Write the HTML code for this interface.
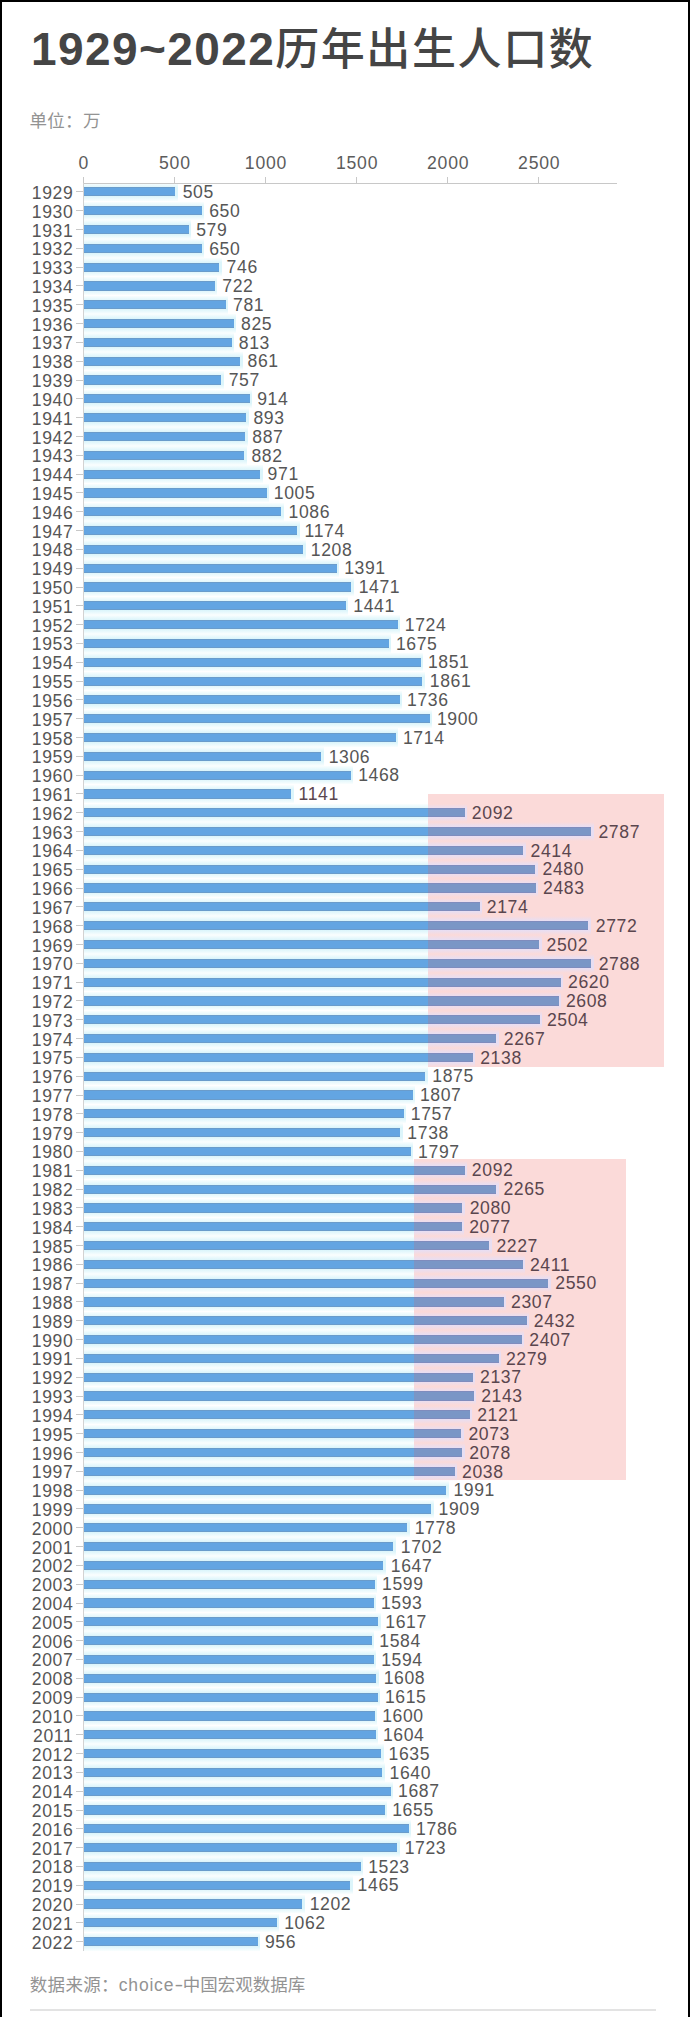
<!DOCTYPE html>
<html lang="zh-CN"><head><meta charset="utf-8"><title>1929~2022历年出生人口数</title>
<style>
html,body{margin:0;padding:0;background:#fff;}
body{width:690px;height:2017px;position:relative;overflow:hidden;font-family:"Liberation Sans", "Noto Sans CJK SC", sans-serif;color:#565656;}
.a{position:absolute;}
.frame{position:absolute;left:0;top:0;width:686px;height:2017px;border-left:2px solid #000;border-right:2px solid #000;border-top:2px solid #000;box-sizing:content-box;}
.title{position:absolute;left:31px;top:20.5px;font-size:46px;line-height:60px;font-weight:bold;color:#454545;white-space:nowrap;}
.td{letter-spacing:1.4px;position:relative;top:-2px;margin-right:1px;}
.tc{letter-spacing:1.6px;font-size:44px;font-weight:500;position:relative;top:-1.5px;margin-left:-1px;}
.unit{position:absolute;left:29.5px;top:106.5px;font-size:17.5px;letter-spacing:0.3px;color:#939393;white-space:nowrap;}
.xl{position:absolute;top:152.5px;font-size:17.6px;line-height:20px;width:60px;text-align:center;color:#5c5c5c;letter-spacing:0.8px;text-indent:0.8px;}
.yl{position:absolute;left:0;width:73.3px;text-align:right;font-size:17.6px;line-height:20px;white-space:nowrap;letter-spacing:0.6px;}
.vl{position:absolute;font-size:17.6px;line-height:20px;white-space:nowrap;letter-spacing:0.6px;}
.bar{position:absolute;height:9.2px;box-shadow:inset 0 1px 0 #6a9ccb,inset 0 -1px 0 #6a9ccb;}
.bar.p{box-shadow:inset 0 1px 0 #7f8cbd,inset 0 -1px 0 #7f8cbd;}
.halo{position:absolute;}
.tk{position:absolute;background:#c8c8c8;}
.foot{position:absolute;left:29.8px;top:1970.5px;font-size:17.5px;letter-spacing:0.3px;color:#939393;white-space:nowrap;}
.hy{display:inline-block;transform:scaleX(1.5);margin:0 1px 0 1.5px;}
.en{letter-spacing:0.8px;}
.cn2{letter-spacing:0;}
</style></head><body>
<div class="frame"></div>
<div class="title"><span class="td">1929~2022</span><span class="tc">历年出生人口数</span></div>
<div class="unit">单位：万</div>

<div class="a" style="left:428px;top:793.5px;width:236px;height:273.9px;background:#fbdad9;"></div>
<div class="a" style="left:414px;top:1159px;width:212px;height:320.6px;background:#fbdad9;"></div>
<div class="halo" style="left:83.9px;top:182.71px;width:94.01px;height:18.4px;background:linear-gradient(to bottom,#fafefe 0,#dcf5fb 4.6px,#dcf5fb calc(100% - 4.6px),#fafefe 100%);"></div>
<div class="halo" style="left:83.9px;top:201.52px;width:120.43px;height:18.4px;background:linear-gradient(to bottom,#fafefe 0,#dcf5fb 4.6px,#dcf5fb calc(100% - 4.6px),#fafefe 100%);"></div>
<div class="halo" style="left:83.9px;top:220.34px;width:107.49px;height:18.4px;background:linear-gradient(to bottom,#fafefe 0,#dcf5fb 4.6px,#dcf5fb calc(100% - 4.6px),#fafefe 100%);"></div>
<div class="halo" style="left:83.9px;top:239.15px;width:120.43px;height:18.4px;background:linear-gradient(to bottom,#fafefe 0,#dcf5fb 4.6px,#dcf5fb calc(100% - 4.6px),#fafefe 100%);"></div>
<div class="halo" style="left:83.9px;top:257.97px;width:137.92px;height:18.4px;background:linear-gradient(to bottom,#fafefe 0,#dcf5fb 4.6px,#dcf5fb calc(100% - 4.6px),#fafefe 100%);"></div>
<div class="halo" style="left:83.9px;top:276.78px;width:133.55px;height:18.4px;background:linear-gradient(to bottom,#fafefe 0,#dcf5fb 4.6px,#dcf5fb calc(100% - 4.6px),#fafefe 100%);"></div>
<div class="halo" style="left:83.9px;top:295.6px;width:144.3px;height:18.4px;background:linear-gradient(to bottom,#fafefe 0,#dcf5fb 4.6px,#dcf5fb calc(100% - 4.6px),#fafefe 100%);"></div>
<div class="halo" style="left:83.9px;top:314.41px;width:152.31px;height:18.4px;background:linear-gradient(to bottom,#fafefe 0,#dcf5fb 4.6px,#dcf5fb calc(100% - 4.6px),#fafefe 100%);"></div>
<div class="halo" style="left:83.9px;top:333.23px;width:150.13px;height:18.4px;background:linear-gradient(to bottom,#fafefe 0,#dcf5fb 4.6px,#dcf5fb calc(100% - 4.6px),#fafefe 100%);"></div>
<div class="halo" style="left:83.9px;top:352.04px;width:158.87px;height:18.4px;background:linear-gradient(to bottom,#fafefe 0,#dcf5fb 4.6px,#dcf5fb calc(100% - 4.6px),#fafefe 100%);"></div>
<div class="halo" style="left:83.9px;top:370.86px;width:139.93px;height:18.4px;background:linear-gradient(to bottom,#fafefe 0,#dcf5fb 4.6px,#dcf5fb calc(100% - 4.6px),#fafefe 100%);"></div>
<div class="halo" style="left:83.9px;top:389.67px;width:168.53px;height:18.4px;background:linear-gradient(to bottom,#fafefe 0,#dcf5fb 4.6px,#dcf5fb calc(100% - 4.6px),#fafefe 100%);"></div>
<div class="halo" style="left:83.9px;top:408.49px;width:164.7px;height:18.4px;background:linear-gradient(to bottom,#fafefe 0,#dcf5fb 4.6px,#dcf5fb calc(100% - 4.6px),#fafefe 100%);"></div>
<div class="halo" style="left:83.9px;top:427.3px;width:163.61px;height:18.4px;background:linear-gradient(to bottom,#fafefe 0,#dcf5fb 4.6px,#dcf5fb calc(100% - 4.6px),#fafefe 100%);"></div>
<div class="halo" style="left:83.9px;top:446.12px;width:162.7px;height:18.4px;background:linear-gradient(to bottom,#fafefe 0,#dcf5fb 4.6px,#dcf5fb calc(100% - 4.6px),#fafefe 100%);"></div>
<div class="halo" style="left:83.9px;top:464.93px;width:178.92px;height:18.4px;background:linear-gradient(to bottom,#fafefe 0,#dcf5fb 4.6px,#dcf5fb calc(100% - 4.6px),#fafefe 100%);"></div>
<div class="halo" style="left:83.9px;top:483.75px;width:185.11px;height:18.4px;background:linear-gradient(to bottom,#fafefe 0,#dcf5fb 4.6px,#dcf5fb calc(100% - 4.6px),#fafefe 100%);"></div>
<div class="halo" style="left:83.9px;top:502.56px;width:199.87px;height:18.4px;background:linear-gradient(to bottom,#fafefe 0,#dcf5fb 4.6px,#dcf5fb calc(100% - 4.6px),#fafefe 100%);"></div>
<div class="halo" style="left:83.9px;top:521.38px;width:215.9px;height:18.4px;background:linear-gradient(to bottom,#fafefe 0,#dcf5fb 4.6px,#dcf5fb calc(100% - 4.6px),#fafefe 100%);"></div>
<div class="halo" style="left:83.9px;top:540.19px;width:222.1px;height:18.4px;background:linear-gradient(to bottom,#fafefe 0,#dcf5fb 4.6px,#dcf5fb calc(100% - 4.6px),#fafefe 100%);"></div>
<div class="halo" style="left:83.9px;top:559.01px;width:255.44px;height:18.4px;background:linear-gradient(to bottom,#fafefe 0,#dcf5fb 4.6px,#dcf5fb calc(100% - 4.6px),#fafefe 100%);"></div>
<div class="halo" style="left:83.9px;top:577.82px;width:270.02px;height:18.4px;background:linear-gradient(to bottom,#fafefe 0,#dcf5fb 4.6px,#dcf5fb calc(100% - 4.6px),#fafefe 100%);"></div>
<div class="halo" style="left:83.9px;top:596.64px;width:264.55px;height:18.4px;background:linear-gradient(to bottom,#fafefe 0,#dcf5fb 4.6px,#dcf5fb calc(100% - 4.6px),#fafefe 100%);"></div>
<div class="halo" style="left:83.9px;top:615.45px;width:316.11px;height:18.4px;background:linear-gradient(to bottom,#fafefe 0,#dcf5fb 4.6px,#dcf5fb calc(100% - 4.6px),#fafefe 100%);"></div>
<div class="halo" style="left:83.9px;top:634.27px;width:307.19px;height:18.4px;background:linear-gradient(to bottom,#fafefe 0,#dcf5fb 4.6px,#dcf5fb calc(100% - 4.6px),#fafefe 100%);"></div>
<div class="halo" style="left:83.9px;top:653.08px;width:339.25px;height:18.4px;background:linear-gradient(to bottom,#fafefe 0,#dcf5fb 4.6px,#dcf5fb calc(100% - 4.6px),#fafefe 100%);"></div>
<div class="halo" style="left:83.9px;top:671.9px;width:341.07px;height:18.4px;background:linear-gradient(to bottom,#fafefe 0,#dcf5fb 4.6px,#dcf5fb calc(100% - 4.6px),#fafefe 100%);"></div>
<div class="halo" style="left:83.9px;top:690.71px;width:318.3px;height:18.4px;background:linear-gradient(to bottom,#fafefe 0,#dcf5fb 4.6px,#dcf5fb calc(100% - 4.6px),#fafefe 100%);"></div>
<div class="halo" style="left:83.9px;top:709.53px;width:348.18px;height:18.4px;background:linear-gradient(to bottom,#fafefe 0,#dcf5fb 4.6px,#dcf5fb calc(100% - 4.6px),#fafefe 100%);"></div>
<div class="halo" style="left:83.9px;top:728.34px;width:314.29px;height:18.4px;background:linear-gradient(to bottom,#fafefe 0,#dcf5fb 4.6px,#dcf5fb calc(100% - 4.6px),#fafefe 100%);"></div>
<div class="halo" style="left:83.9px;top:747.16px;width:239.95px;height:18.4px;background:linear-gradient(to bottom,#fafefe 0,#dcf5fb 4.6px,#dcf5fb calc(100% - 4.6px),#fafefe 100%);"></div>
<div class="halo" style="left:83.9px;top:765.97px;width:269.47px;height:18.4px;background:linear-gradient(to bottom,#fafefe 0,#dcf5fb 4.6px,#dcf5fb calc(100% - 4.6px),#fafefe 100%);"></div>
<div class="halo" style="left:83.9px;top:784.79px;width:209.89px;height:18.4px;background:linear-gradient(to bottom,#fafefe 0,#dcf5fb 4.6px,#dcf5fb calc(100% - 4.6px),#fafefe 100%);"></div>
<div class="halo" style="left:83.9px;top:803.6px;width:344.1px;height:18.4px;background:linear-gradient(to bottom,#fafefe 0,#dcf5fb 4.6px,#dcf5fb calc(100% - 4.6px),#fafefe 100%);"></div>
<div class="halo" style="left:428px;top:803.6px;width:39.06px;height:18.4px;background:linear-gradient(to bottom,rgba(251,218,226,0) 0,#e8def2 4.6px,#e8def2 calc(100% - 4.6px),rgba(251,218,226,0) 100%);"></div>
<div class="halo" style="left:83.9px;top:822.42px;width:344.1px;height:18.4px;background:linear-gradient(to bottom,#fafefe 0,#dcf5fb 4.6px,#dcf5fb calc(100% - 4.6px),#fafefe 100%);"></div>
<div class="halo" style="left:428px;top:822.42px;width:165.69px;height:18.4px;background:linear-gradient(to bottom,rgba(251,218,226,0) 0,#e8def2 4.6px,#e8def2 calc(100% - 4.6px),rgba(251,218,226,0) 100%);"></div>
<div class="halo" style="left:83.9px;top:841.23px;width:344.1px;height:18.4px;background:linear-gradient(to bottom,#fafefe 0,#dcf5fb 4.6px,#dcf5fb calc(100% - 4.6px),#fafefe 100%);"></div>
<div class="halo" style="left:428px;top:841.23px;width:97.73px;height:18.4px;background:linear-gradient(to bottom,rgba(251,218,226,0) 0,#e8def2 4.6px,#e8def2 calc(100% - 4.6px),rgba(251,218,226,0) 100%);"></div>
<div class="halo" style="left:83.9px;top:860.05px;width:344.1px;height:18.4px;background:linear-gradient(to bottom,#fafefe 0,#dcf5fb 4.6px,#dcf5fb calc(100% - 4.6px),#fafefe 100%);"></div>
<div class="halo" style="left:428px;top:860.05px;width:109.76px;height:18.4px;background:linear-gradient(to bottom,rgba(251,218,226,0) 0,#e8def2 4.6px,#e8def2 calc(100% - 4.6px),rgba(251,218,226,0) 100%);"></div>
<div class="halo" style="left:83.9px;top:878.86px;width:344.1px;height:18.4px;background:linear-gradient(to bottom,#fafefe 0,#dcf5fb 4.6px,#dcf5fb calc(100% - 4.6px),#fafefe 100%);"></div>
<div class="halo" style="left:428px;top:878.86px;width:110.3px;height:18.4px;background:linear-gradient(to bottom,rgba(251,218,226,0) 0,#e8def2 4.6px,#e8def2 calc(100% - 4.6px),rgba(251,218,226,0) 100%);"></div>
<div class="halo" style="left:83.9px;top:897.68px;width:344.1px;height:18.4px;background:linear-gradient(to bottom,#fafefe 0,#dcf5fb 4.6px,#dcf5fb calc(100% - 4.6px),#fafefe 100%);"></div>
<div class="halo" style="left:428px;top:897.68px;width:54px;height:18.4px;background:linear-gradient(to bottom,rgba(251,218,226,0) 0,#e8def2 4.6px,#e8def2 calc(100% - 4.6px),rgba(251,218,226,0) 100%);"></div>
<div class="halo" style="left:83.9px;top:916.49px;width:344.1px;height:18.4px;background:linear-gradient(to bottom,#fafefe 0,#dcf5fb 4.6px,#dcf5fb calc(100% - 4.6px),#fafefe 100%);"></div>
<div class="halo" style="left:428px;top:916.49px;width:162.96px;height:18.4px;background:linear-gradient(to bottom,rgba(251,218,226,0) 0,#e8def2 4.6px,#e8def2 calc(100% - 4.6px),rgba(251,218,226,0) 100%);"></div>
<div class="halo" style="left:83.9px;top:935.31px;width:344.1px;height:18.4px;background:linear-gradient(to bottom,#fafefe 0,#dcf5fb 4.6px,#dcf5fb calc(100% - 4.6px),#fafefe 100%);"></div>
<div class="halo" style="left:428px;top:935.31px;width:113.76px;height:18.4px;background:linear-gradient(to bottom,rgba(251,218,226,0) 0,#e8def2 4.6px,#e8def2 calc(100% - 4.6px),rgba(251,218,226,0) 100%);"></div>
<div class="halo" style="left:83.9px;top:954.12px;width:344.1px;height:18.4px;background:linear-gradient(to bottom,#fafefe 0,#dcf5fb 4.6px,#dcf5fb calc(100% - 4.6px),#fafefe 100%);"></div>
<div class="halo" style="left:428px;top:954.12px;width:165.87px;height:18.4px;background:linear-gradient(to bottom,rgba(251,218,226,0) 0,#e8def2 4.6px,#e8def2 calc(100% - 4.6px),rgba(251,218,226,0) 100%);"></div>
<div class="halo" style="left:83.9px;top:972.94px;width:344.1px;height:18.4px;background:linear-gradient(to bottom,#fafefe 0,#dcf5fb 4.6px,#dcf5fb calc(100% - 4.6px),#fafefe 100%);"></div>
<div class="halo" style="left:428px;top:972.94px;width:135.26px;height:18.4px;background:linear-gradient(to bottom,rgba(251,218,226,0) 0,#e8def2 4.6px,#e8def2 calc(100% - 4.6px),rgba(251,218,226,0) 100%);"></div>
<div class="halo" style="left:83.9px;top:991.75px;width:344.1px;height:18.4px;background:linear-gradient(to bottom,#fafefe 0,#dcf5fb 4.6px,#dcf5fb calc(100% - 4.6px),#fafefe 100%);"></div>
<div class="halo" style="left:428px;top:991.75px;width:133.08px;height:18.4px;background:linear-gradient(to bottom,rgba(251,218,226,0) 0,#e8def2 4.6px,#e8def2 calc(100% - 4.6px),rgba(251,218,226,0) 100%);"></div>
<div class="halo" style="left:83.9px;top:1010.57px;width:344.1px;height:18.4px;background:linear-gradient(to bottom,#fafefe 0,#dcf5fb 4.6px,#dcf5fb calc(100% - 4.6px),#fafefe 100%);"></div>
<div class="halo" style="left:428px;top:1010.57px;width:114.13px;height:18.4px;background:linear-gradient(to bottom,rgba(251,218,226,0) 0,#e8def2 4.6px,#e8def2 calc(100% - 4.6px),rgba(251,218,226,0) 100%);"></div>
<div class="halo" style="left:83.9px;top:1029.38px;width:344.1px;height:18.4px;background:linear-gradient(to bottom,#fafefe 0,#dcf5fb 4.6px,#dcf5fb calc(100% - 4.6px),#fafefe 100%);"></div>
<div class="halo" style="left:428px;top:1029.38px;width:70.95px;height:18.4px;background:linear-gradient(to bottom,rgba(251,218,226,0) 0,#e8def2 4.6px,#e8def2 calc(100% - 4.6px),rgba(251,218,226,0) 100%);"></div>
<div class="halo" style="left:83.9px;top:1048.2px;width:344.1px;height:18.4px;background:linear-gradient(to bottom,#fafefe 0,#dcf5fb 4.6px,#dcf5fb calc(100% - 4.6px),#fafefe 100%);"></div>
<div class="halo" style="left:428px;top:1048.2px;width:47.44px;height:18.4px;background:linear-gradient(to bottom,rgba(251,218,226,0) 0,#e8def2 4.6px,#e8def2 calc(100% - 4.6px),rgba(251,218,226,0) 100%);"></div>
<div class="halo" style="left:83.9px;top:1067.01px;width:343.62px;height:18.4px;background:linear-gradient(to bottom,#fafefe 0,#dcf5fb 4.6px,#dcf5fb calc(100% - 4.6px),#fafefe 100%);"></div>
<div class="halo" style="left:83.9px;top:1085.83px;width:331.24px;height:18.4px;background:linear-gradient(to bottom,#fafefe 0,#dcf5fb 4.6px,#dcf5fb calc(100% - 4.6px),#fafefe 100%);"></div>
<div class="halo" style="left:83.9px;top:1104.64px;width:322.13px;height:18.4px;background:linear-gradient(to bottom,#fafefe 0,#dcf5fb 4.6px,#dcf5fb calc(100% - 4.6px),#fafefe 100%);"></div>
<div class="halo" style="left:83.9px;top:1123.46px;width:318.66px;height:18.4px;background:linear-gradient(to bottom,#fafefe 0,#dcf5fb 4.6px,#dcf5fb calc(100% - 4.6px),#fafefe 100%);"></div>
<div class="halo" style="left:83.9px;top:1142.27px;width:329.41px;height:18.4px;background:linear-gradient(to bottom,#fafefe 0,#dcf5fb 4.6px,#dcf5fb calc(100% - 4.6px),#fafefe 100%);"></div>
<div class="halo" style="left:83.9px;top:1161.09px;width:330.1px;height:18.4px;background:linear-gradient(to bottom,#fafefe 0,#dcf5fb 4.6px,#dcf5fb calc(100% - 4.6px),#fafefe 100%);"></div>
<div class="halo" style="left:414px;top:1161.09px;width:53.06px;height:18.4px;background:linear-gradient(to bottom,rgba(251,218,226,0) 0,#e8def2 4.6px,#e8def2 calc(100% - 4.6px),rgba(251,218,226,0) 100%);"></div>
<div class="halo" style="left:83.9px;top:1179.9px;width:330.1px;height:18.4px;background:linear-gradient(to bottom,#fafefe 0,#dcf5fb 4.6px,#dcf5fb calc(100% - 4.6px),#fafefe 100%);"></div>
<div class="halo" style="left:414px;top:1179.9px;width:84.58px;height:18.4px;background:linear-gradient(to bottom,rgba(251,218,226,0) 0,#e8def2 4.6px,#e8def2 calc(100% - 4.6px),rgba(251,218,226,0) 100%);"></div>
<div class="halo" style="left:83.9px;top:1198.72px;width:330.1px;height:18.4px;background:linear-gradient(to bottom,#fafefe 0,#dcf5fb 4.6px,#dcf5fb calc(100% - 4.6px),#fafefe 100%);"></div>
<div class="halo" style="left:414px;top:1198.72px;width:50.88px;height:18.4px;background:linear-gradient(to bottom,rgba(251,218,226,0) 0,#e8def2 4.6px,#e8def2 calc(100% - 4.6px),rgba(251,218,226,0) 100%);"></div>
<div class="halo" style="left:83.9px;top:1217.53px;width:330.1px;height:18.4px;background:linear-gradient(to bottom,#fafefe 0,#dcf5fb 4.6px,#dcf5fb calc(100% - 4.6px),#fafefe 100%);"></div>
<div class="halo" style="left:414px;top:1217.53px;width:50.33px;height:18.4px;background:linear-gradient(to bottom,rgba(251,218,226,0) 0,#e8def2 4.6px,#e8def2 calc(100% - 4.6px),rgba(251,218,226,0) 100%);"></div>
<div class="halo" style="left:83.9px;top:1236.35px;width:330.1px;height:18.4px;background:linear-gradient(to bottom,#fafefe 0,#dcf5fb 4.6px,#dcf5fb calc(100% - 4.6px),#fafefe 100%);"></div>
<div class="halo" style="left:414px;top:1236.35px;width:77.66px;height:18.4px;background:linear-gradient(to bottom,rgba(251,218,226,0) 0,#e8def2 4.6px,#e8def2 calc(100% - 4.6px),rgba(251,218,226,0) 100%);"></div>
<div class="halo" style="left:83.9px;top:1255.16px;width:330.1px;height:18.4px;background:linear-gradient(to bottom,#fafefe 0,#dcf5fb 4.6px,#dcf5fb calc(100% - 4.6px),#fafefe 100%);"></div>
<div class="halo" style="left:414px;top:1255.16px;width:111.18px;height:18.4px;background:linear-gradient(to bottom,rgba(251,218,226,0) 0,#e8def2 4.6px,#e8def2 calc(100% - 4.6px),rgba(251,218,226,0) 100%);"></div>
<div class="halo" style="left:83.9px;top:1273.98px;width:330.1px;height:18.4px;background:linear-gradient(to bottom,#fafefe 0,#dcf5fb 4.6px,#dcf5fb calc(100% - 4.6px),#fafefe 100%);"></div>
<div class="halo" style="left:414px;top:1273.98px;width:136.51px;height:18.4px;background:linear-gradient(to bottom,rgba(251,218,226,0) 0,#e8def2 4.6px,#e8def2 calc(100% - 4.6px),rgba(251,218,226,0) 100%);"></div>
<div class="halo" style="left:83.9px;top:1292.79px;width:330.1px;height:18.4px;background:linear-gradient(to bottom,#fafefe 0,#dcf5fb 4.6px,#dcf5fb calc(100% - 4.6px),#fafefe 100%);"></div>
<div class="halo" style="left:414px;top:1292.79px;width:92.24px;height:18.4px;background:linear-gradient(to bottom,rgba(251,218,226,0) 0,#e8def2 4.6px,#e8def2 calc(100% - 4.6px),rgba(251,218,226,0) 100%);"></div>
<div class="halo" style="left:83.9px;top:1311.61px;width:330.1px;height:18.4px;background:linear-gradient(to bottom,#fafefe 0,#dcf5fb 4.6px,#dcf5fb calc(100% - 4.6px),#fafefe 100%);"></div>
<div class="halo" style="left:414px;top:1311.61px;width:115.01px;height:18.4px;background:linear-gradient(to bottom,rgba(251,218,226,0) 0,#e8def2 4.6px,#e8def2 calc(100% - 4.6px),rgba(251,218,226,0) 100%);"></div>
<div class="halo" style="left:83.9px;top:1330.42px;width:330.1px;height:18.4px;background:linear-gradient(to bottom,#fafefe 0,#dcf5fb 4.6px,#dcf5fb calc(100% - 4.6px),#fafefe 100%);"></div>
<div class="halo" style="left:414px;top:1330.42px;width:110.46px;height:18.4px;background:linear-gradient(to bottom,rgba(251,218,226,0) 0,#e8def2 4.6px,#e8def2 calc(100% - 4.6px),rgba(251,218,226,0) 100%);"></div>
<div class="halo" style="left:83.9px;top:1349.24px;width:330.1px;height:18.4px;background:linear-gradient(to bottom,#fafefe 0,#dcf5fb 4.6px,#dcf5fb calc(100% - 4.6px),#fafefe 100%);"></div>
<div class="halo" style="left:414px;top:1349.24px;width:87.13px;height:18.4px;background:linear-gradient(to bottom,rgba(251,218,226,0) 0,#e8def2 4.6px,#e8def2 calc(100% - 4.6px),rgba(251,218,226,0) 100%);"></div>
<div class="halo" style="left:83.9px;top:1368.05px;width:330.1px;height:18.4px;background:linear-gradient(to bottom,#fafefe 0,#dcf5fb 4.6px,#dcf5fb calc(100% - 4.6px),#fafefe 100%);"></div>
<div class="halo" style="left:414px;top:1368.05px;width:61.26px;height:18.4px;background:linear-gradient(to bottom,rgba(251,218,226,0) 0,#e8def2 4.6px,#e8def2 calc(100% - 4.6px),rgba(251,218,226,0) 100%);"></div>
<div class="halo" style="left:83.9px;top:1386.87px;width:330.1px;height:18.4px;background:linear-gradient(to bottom,#fafefe 0,#dcf5fb 4.6px,#dcf5fb calc(100% - 4.6px),#fafefe 100%);"></div>
<div class="halo" style="left:414px;top:1386.87px;width:62.35px;height:18.4px;background:linear-gradient(to bottom,rgba(251,218,226,0) 0,#e8def2 4.6px,#e8def2 calc(100% - 4.6px),rgba(251,218,226,0) 100%);"></div>
<div class="halo" style="left:83.9px;top:1405.68px;width:330.1px;height:18.4px;background:linear-gradient(to bottom,#fafefe 0,#dcf5fb 4.6px,#dcf5fb calc(100% - 4.6px),#fafefe 100%);"></div>
<div class="halo" style="left:414px;top:1405.68px;width:58.35px;height:18.4px;background:linear-gradient(to bottom,rgba(251,218,226,0) 0,#e8def2 4.6px,#e8def2 calc(100% - 4.6px),rgba(251,218,226,0) 100%);"></div>
<div class="halo" style="left:83.9px;top:1424.5px;width:330.1px;height:18.4px;background:linear-gradient(to bottom,#fafefe 0,#dcf5fb 4.6px,#dcf5fb calc(100% - 4.6px),#fafefe 100%);"></div>
<div class="halo" style="left:414px;top:1424.5px;width:49.6px;height:18.4px;background:linear-gradient(to bottom,rgba(251,218,226,0) 0,#e8def2 4.6px,#e8def2 calc(100% - 4.6px),rgba(251,218,226,0) 100%);"></div>
<div class="halo" style="left:83.9px;top:1443.31px;width:330.1px;height:18.4px;background:linear-gradient(to bottom,#fafefe 0,#dcf5fb 4.6px,#dcf5fb calc(100% - 4.6px),#fafefe 100%);"></div>
<div class="halo" style="left:414px;top:1443.31px;width:50.51px;height:18.4px;background:linear-gradient(to bottom,rgba(251,218,226,0) 0,#e8def2 4.6px,#e8def2 calc(100% - 4.6px),rgba(251,218,226,0) 100%);"></div>
<div class="halo" style="left:83.9px;top:1462.13px;width:330.1px;height:18.4px;background:linear-gradient(to bottom,#fafefe 0,#dcf5fb 4.6px,#dcf5fb calc(100% - 4.6px),#fafefe 100%);"></div>
<div class="halo" style="left:414px;top:1462.13px;width:43.22px;height:18.4px;background:linear-gradient(to bottom,rgba(251,218,226,0) 0,#e8def2 4.6px,#e8def2 calc(100% - 4.6px),rgba(251,218,226,0) 100%);"></div>
<div class="halo" style="left:83.9px;top:1480.94px;width:364.76px;height:18.4px;background:linear-gradient(to bottom,#fafefe 0,#dcf5fb 4.6px,#dcf5fb calc(100% - 4.6px),#fafefe 100%);"></div>
<div class="halo" style="left:83.9px;top:1499.76px;width:349.82px;height:18.4px;background:linear-gradient(to bottom,#fafefe 0,#dcf5fb 4.6px,#dcf5fb calc(100% - 4.6px),#fafefe 100%);"></div>
<div class="halo" style="left:83.9px;top:1518.57px;width:325.95px;height:18.4px;background:linear-gradient(to bottom,#fafefe 0,#dcf5fb 4.6px,#dcf5fb calc(100% - 4.6px),#fafefe 100%);"></div>
<div class="halo" style="left:83.9px;top:1537.39px;width:312.1px;height:18.4px;background:linear-gradient(to bottom,#fafefe 0,#dcf5fb 4.6px,#dcf5fb calc(100% - 4.6px),#fafefe 100%);"></div>
<div class="halo" style="left:83.9px;top:1556.2px;width:302.08px;height:18.4px;background:linear-gradient(to bottom,#fafefe 0,#dcf5fb 4.6px,#dcf5fb calc(100% - 4.6px),#fafefe 100%);"></div>
<div class="halo" style="left:83.9px;top:1575.02px;width:293.34px;height:18.4px;background:linear-gradient(to bottom,#fafefe 0,#dcf5fb 4.6px,#dcf5fb calc(100% - 4.6px),#fafefe 100%);"></div>
<div class="halo" style="left:83.9px;top:1593.83px;width:292.24px;height:18.4px;background:linear-gradient(to bottom,#fafefe 0,#dcf5fb 4.6px,#dcf5fb calc(100% - 4.6px),#fafefe 100%);"></div>
<div class="halo" style="left:83.9px;top:1612.65px;width:296.62px;height:18.4px;background:linear-gradient(to bottom,#fafefe 0,#dcf5fb 4.6px,#dcf5fb calc(100% - 4.6px),#fafefe 100%);"></div>
<div class="halo" style="left:83.9px;top:1631.46px;width:290.6px;height:18.4px;background:linear-gradient(to bottom,#fafefe 0,#dcf5fb 4.6px,#dcf5fb calc(100% - 4.6px),#fafefe 100%);"></div>
<div class="halo" style="left:83.9px;top:1650.28px;width:292.43px;height:18.4px;background:linear-gradient(to bottom,#fafefe 0,#dcf5fb 4.6px,#dcf5fb calc(100% - 4.6px),#fafefe 100%);"></div>
<div class="halo" style="left:83.9px;top:1669.09px;width:294.98px;height:18.4px;background:linear-gradient(to bottom,#fafefe 0,#dcf5fb 4.6px,#dcf5fb calc(100% - 4.6px),#fafefe 100%);"></div>
<div class="halo" style="left:83.9px;top:1687.91px;width:296.25px;height:18.4px;background:linear-gradient(to bottom,#fafefe 0,#dcf5fb 4.6px,#dcf5fb calc(100% - 4.6px),#fafefe 100%);"></div>
<div class="halo" style="left:83.9px;top:1706.72px;width:293.52px;height:18.4px;background:linear-gradient(to bottom,#fafefe 0,#dcf5fb 4.6px,#dcf5fb calc(100% - 4.6px),#fafefe 100%);"></div>
<div class="halo" style="left:83.9px;top:1725.54px;width:294.25px;height:18.4px;background:linear-gradient(to bottom,#fafefe 0,#dcf5fb 4.6px,#dcf5fb calc(100% - 4.6px),#fafefe 100%);"></div>
<div class="halo" style="left:83.9px;top:1744.35px;width:299.9px;height:18.4px;background:linear-gradient(to bottom,#fafefe 0,#dcf5fb 4.6px,#dcf5fb calc(100% - 4.6px),#fafefe 100%);"></div>
<div class="halo" style="left:83.9px;top:1763.17px;width:300.81px;height:18.4px;background:linear-gradient(to bottom,#fafefe 0,#dcf5fb 4.6px,#dcf5fb calc(100% - 4.6px),#fafefe 100%);"></div>
<div class="halo" style="left:83.9px;top:1781.98px;width:309.37px;height:18.4px;background:linear-gradient(to bottom,#fafefe 0,#dcf5fb 4.6px,#dcf5fb calc(100% - 4.6px),#fafefe 100%);"></div>
<div class="halo" style="left:83.9px;top:1800.8px;width:303.54px;height:18.4px;background:linear-gradient(to bottom,#fafefe 0,#dcf5fb 4.6px,#dcf5fb calc(100% - 4.6px),#fafefe 100%);"></div>
<div class="halo" style="left:83.9px;top:1819.61px;width:327.41px;height:18.4px;background:linear-gradient(to bottom,#fafefe 0,#dcf5fb 4.6px,#dcf5fb calc(100% - 4.6px),#fafefe 100%);"></div>
<div class="halo" style="left:83.9px;top:1838.43px;width:315.93px;height:18.4px;background:linear-gradient(to bottom,#fafefe 0,#dcf5fb 4.6px,#dcf5fb calc(100% - 4.6px),#fafefe 100%);"></div>
<div class="halo" style="left:83.9px;top:1857.24px;width:279.49px;height:18.4px;background:linear-gradient(to bottom,#fafefe 0,#dcf5fb 4.6px,#dcf5fb calc(100% - 4.6px),#fafefe 100%);"></div>
<div class="halo" style="left:83.9px;top:1876.06px;width:268.92px;height:18.4px;background:linear-gradient(to bottom,#fafefe 0,#dcf5fb 4.6px,#dcf5fb calc(100% - 4.6px),#fafefe 100%);"></div>
<div class="halo" style="left:83.9px;top:1894.87px;width:221px;height:18.4px;background:linear-gradient(to bottom,#fafefe 0,#dcf5fb 4.6px,#dcf5fb calc(100% - 4.6px),#fafefe 100%);"></div>
<div class="halo" style="left:83.9px;top:1913.69px;width:195.5px;height:18.4px;background:linear-gradient(to bottom,#fafefe 0,#dcf5fb 4.6px,#dcf5fb calc(100% - 4.6px),#fafefe 100%);"></div>
<div class="halo" style="left:83.9px;top:1932.5px;width:176.18px;height:18.4px;background:linear-gradient(to bottom,#fafefe 0,#dcf5fb 4.6px,#dcf5fb calc(100% - 4.6px),#fafefe 100%);"></div>
<div class="bar" style="left:83.9px;top:187.31px;width:91.51px;background:#63a5e2;"></div>
<div class="bar" style="left:83.9px;top:206.12px;width:117.93px;background:#63a5e2;"></div>
<div class="bar" style="left:83.9px;top:224.94px;width:104.99px;background:#63a5e2;"></div>
<div class="bar" style="left:83.9px;top:243.75px;width:117.93px;background:#63a5e2;"></div>
<div class="bar" style="left:83.9px;top:262.57px;width:135.42px;background:#63a5e2;"></div>
<div class="bar" style="left:83.9px;top:281.38px;width:131.05px;background:#63a5e2;"></div>
<div class="bar" style="left:83.9px;top:300.2px;width:141.8px;background:#63a5e2;"></div>
<div class="bar" style="left:83.9px;top:319.01px;width:149.81px;background:#63a5e2;"></div>
<div class="bar" style="left:83.9px;top:337.83px;width:147.63px;background:#63a5e2;"></div>
<div class="bar" style="left:83.9px;top:356.64px;width:156.37px;background:#63a5e2;"></div>
<div class="bar" style="left:83.9px;top:375.46px;width:137.43px;background:#63a5e2;"></div>
<div class="bar" style="left:83.9px;top:394.27px;width:166.03px;background:#63a5e2;"></div>
<div class="bar" style="left:83.9px;top:413.09px;width:162.2px;background:#63a5e2;"></div>
<div class="bar" style="left:83.9px;top:431.9px;width:161.11px;background:#63a5e2;"></div>
<div class="bar" style="left:83.9px;top:450.72px;width:160.2px;background:#63a5e2;"></div>
<div class="bar" style="left:83.9px;top:469.53px;width:176.42px;background:#63a5e2;"></div>
<div class="bar" style="left:83.9px;top:488.35px;width:182.61px;background:#63a5e2;"></div>
<div class="bar" style="left:83.9px;top:507.16px;width:197.37px;background:#63a5e2;"></div>
<div class="bar" style="left:83.9px;top:525.98px;width:213.4px;background:#63a5e2;"></div>
<div class="bar" style="left:83.9px;top:544.79px;width:219.6px;background:#63a5e2;"></div>
<div class="bar" style="left:83.9px;top:563.61px;width:252.94px;background:#63a5e2;"></div>
<div class="bar" style="left:83.9px;top:582.42px;width:267.52px;background:#63a5e2;"></div>
<div class="bar" style="left:83.9px;top:601.24px;width:262.05px;background:#63a5e2;"></div>
<div class="bar" style="left:83.9px;top:620.05px;width:313.61px;background:#63a5e2;"></div>
<div class="bar" style="left:83.9px;top:638.87px;width:304.69px;background:#63a5e2;"></div>
<div class="bar" style="left:83.9px;top:657.68px;width:336.75px;background:#63a5e2;"></div>
<div class="bar" style="left:83.9px;top:676.5px;width:338.57px;background:#63a5e2;"></div>
<div class="bar" style="left:83.9px;top:695.31px;width:315.8px;background:#63a5e2;"></div>
<div class="bar" style="left:83.9px;top:714.13px;width:345.68px;background:#63a5e2;"></div>
<div class="bar" style="left:83.9px;top:732.94px;width:311.79px;background:#63a5e2;"></div>
<div class="bar" style="left:83.9px;top:751.76px;width:237.45px;background:#63a5e2;"></div>
<div class="bar" style="left:83.9px;top:770.57px;width:266.97px;background:#63a5e2;"></div>
<div class="bar" style="left:83.9px;top:789.39px;width:207.39px;background:#63a5e2;"></div>
<div class="bar" style="left:83.9px;top:808.2px;width:344.1px;background:#63a5e2;"></div>
<div class="bar p" style="left:428px;top:808.2px;width:36.56px;background:#7a96c6;"></div>
<div class="bar" style="left:83.9px;top:827.02px;width:344.1px;background:#63a5e2;"></div>
<div class="bar p" style="left:428px;top:827.02px;width:163.19px;background:#7a96c6;"></div>
<div class="bar" style="left:83.9px;top:845.83px;width:344.1px;background:#63a5e2;"></div>
<div class="bar p" style="left:428px;top:845.83px;width:95.23px;background:#7a96c6;"></div>
<div class="bar" style="left:83.9px;top:864.65px;width:344.1px;background:#63a5e2;"></div>
<div class="bar p" style="left:428px;top:864.65px;width:107.26px;background:#7a96c6;"></div>
<div class="bar" style="left:83.9px;top:883.46px;width:344.1px;background:#63a5e2;"></div>
<div class="bar p" style="left:428px;top:883.46px;width:107.8px;background:#7a96c6;"></div>
<div class="bar" style="left:83.9px;top:902.28px;width:344.1px;background:#63a5e2;"></div>
<div class="bar p" style="left:428px;top:902.28px;width:51.5px;background:#7a96c6;"></div>
<div class="bar" style="left:83.9px;top:921.09px;width:344.1px;background:#63a5e2;"></div>
<div class="bar p" style="left:428px;top:921.09px;width:160.46px;background:#7a96c6;"></div>
<div class="bar" style="left:83.9px;top:939.91px;width:344.1px;background:#63a5e2;"></div>
<div class="bar p" style="left:428px;top:939.91px;width:111.26px;background:#7a96c6;"></div>
<div class="bar" style="left:83.9px;top:958.72px;width:344.1px;background:#63a5e2;"></div>
<div class="bar p" style="left:428px;top:958.72px;width:163.37px;background:#7a96c6;"></div>
<div class="bar" style="left:83.9px;top:977.54px;width:344.1px;background:#63a5e2;"></div>
<div class="bar p" style="left:428px;top:977.54px;width:132.76px;background:#7a96c6;"></div>
<div class="bar" style="left:83.9px;top:996.35px;width:344.1px;background:#63a5e2;"></div>
<div class="bar p" style="left:428px;top:996.35px;width:130.58px;background:#7a96c6;"></div>
<div class="bar" style="left:83.9px;top:1015.17px;width:344.1px;background:#63a5e2;"></div>
<div class="bar p" style="left:428px;top:1015.17px;width:111.63px;background:#7a96c6;"></div>
<div class="bar" style="left:83.9px;top:1033.98px;width:344.1px;background:#63a5e2;"></div>
<div class="bar p" style="left:428px;top:1033.98px;width:68.45px;background:#7a96c6;"></div>
<div class="bar" style="left:83.9px;top:1052.8px;width:344.1px;background:#63a5e2;"></div>
<div class="bar p" style="left:428px;top:1052.8px;width:44.94px;background:#7a96c6;"></div>
<div class="bar" style="left:83.9px;top:1071.61px;width:341.12px;background:#63a5e2;"></div>
<div class="bar" style="left:83.9px;top:1090.43px;width:328.74px;background:#63a5e2;"></div>
<div class="bar" style="left:83.9px;top:1109.24px;width:319.63px;background:#63a5e2;"></div>
<div class="bar" style="left:83.9px;top:1128.06px;width:316.16px;background:#63a5e2;"></div>
<div class="bar" style="left:83.9px;top:1146.87px;width:326.91px;background:#63a5e2;"></div>
<div class="bar" style="left:83.9px;top:1165.69px;width:330.1px;background:#63a5e2;"></div>
<div class="bar p" style="left:414px;top:1165.69px;width:50.56px;background:#7a96c6;"></div>
<div class="bar" style="left:83.9px;top:1184.5px;width:330.1px;background:#63a5e2;"></div>
<div class="bar p" style="left:414px;top:1184.5px;width:82.08px;background:#7a96c6;"></div>
<div class="bar" style="left:83.9px;top:1203.32px;width:330.1px;background:#63a5e2;"></div>
<div class="bar p" style="left:414px;top:1203.32px;width:48.38px;background:#7a96c6;"></div>
<div class="bar" style="left:83.9px;top:1222.13px;width:330.1px;background:#63a5e2;"></div>
<div class="bar p" style="left:414px;top:1222.13px;width:47.83px;background:#7a96c6;"></div>
<div class="bar" style="left:83.9px;top:1240.95px;width:330.1px;background:#63a5e2;"></div>
<div class="bar p" style="left:414px;top:1240.95px;width:75.16px;background:#7a96c6;"></div>
<div class="bar" style="left:83.9px;top:1259.76px;width:330.1px;background:#63a5e2;"></div>
<div class="bar p" style="left:414px;top:1259.76px;width:108.68px;background:#7a96c6;"></div>
<div class="bar" style="left:83.9px;top:1278.58px;width:330.1px;background:#63a5e2;"></div>
<div class="bar p" style="left:414px;top:1278.58px;width:134.01px;background:#7a96c6;"></div>
<div class="bar" style="left:83.9px;top:1297.39px;width:330.1px;background:#63a5e2;"></div>
<div class="bar p" style="left:414px;top:1297.39px;width:89.74px;background:#7a96c6;"></div>
<div class="bar" style="left:83.9px;top:1316.21px;width:330.1px;background:#63a5e2;"></div>
<div class="bar p" style="left:414px;top:1316.21px;width:112.51px;background:#7a96c6;"></div>
<div class="bar" style="left:83.9px;top:1335.02px;width:330.1px;background:#63a5e2;"></div>
<div class="bar p" style="left:414px;top:1335.02px;width:107.96px;background:#7a96c6;"></div>
<div class="bar" style="left:83.9px;top:1353.84px;width:330.1px;background:#63a5e2;"></div>
<div class="bar p" style="left:414px;top:1353.84px;width:84.63px;background:#7a96c6;"></div>
<div class="bar" style="left:83.9px;top:1372.65px;width:330.1px;background:#63a5e2;"></div>
<div class="bar p" style="left:414px;top:1372.65px;width:58.76px;background:#7a96c6;"></div>
<div class="bar" style="left:83.9px;top:1391.47px;width:330.1px;background:#63a5e2;"></div>
<div class="bar p" style="left:414px;top:1391.47px;width:59.85px;background:#7a96c6;"></div>
<div class="bar" style="left:83.9px;top:1410.28px;width:330.1px;background:#63a5e2;"></div>
<div class="bar p" style="left:414px;top:1410.28px;width:55.85px;background:#7a96c6;"></div>
<div class="bar" style="left:83.9px;top:1429.1px;width:330.1px;background:#63a5e2;"></div>
<div class="bar p" style="left:414px;top:1429.1px;width:47.1px;background:#7a96c6;"></div>
<div class="bar" style="left:83.9px;top:1447.91px;width:330.1px;background:#63a5e2;"></div>
<div class="bar p" style="left:414px;top:1447.91px;width:48.01px;background:#7a96c6;"></div>
<div class="bar" style="left:83.9px;top:1466.73px;width:330.1px;background:#63a5e2;"></div>
<div class="bar p" style="left:414px;top:1466.73px;width:40.72px;background:#7a96c6;"></div>
<div class="bar" style="left:83.9px;top:1485.54px;width:362.26px;background:#63a5e2;"></div>
<div class="bar" style="left:83.9px;top:1504.36px;width:347.32px;background:#63a5e2;"></div>
<div class="bar" style="left:83.9px;top:1523.17px;width:323.45px;background:#63a5e2;"></div>
<div class="bar" style="left:83.9px;top:1541.99px;width:309.6px;background:#63a5e2;"></div>
<div class="bar" style="left:83.9px;top:1560.8px;width:299.58px;background:#63a5e2;"></div>
<div class="bar" style="left:83.9px;top:1579.62px;width:290.84px;background:#63a5e2;"></div>
<div class="bar" style="left:83.9px;top:1598.43px;width:289.74px;background:#63a5e2;"></div>
<div class="bar" style="left:83.9px;top:1617.25px;width:294.12px;background:#63a5e2;"></div>
<div class="bar" style="left:83.9px;top:1636.06px;width:288.1px;background:#63a5e2;"></div>
<div class="bar" style="left:83.9px;top:1654.88px;width:289.93px;background:#63a5e2;"></div>
<div class="bar" style="left:83.9px;top:1673.69px;width:292.48px;background:#63a5e2;"></div>
<div class="bar" style="left:83.9px;top:1692.51px;width:293.75px;background:#63a5e2;"></div>
<div class="bar" style="left:83.9px;top:1711.32px;width:291.02px;background:#63a5e2;"></div>
<div class="bar" style="left:83.9px;top:1730.14px;width:291.75px;background:#63a5e2;"></div>
<div class="bar" style="left:83.9px;top:1748.95px;width:297.4px;background:#63a5e2;"></div>
<div class="bar" style="left:83.9px;top:1767.77px;width:298.31px;background:#63a5e2;"></div>
<div class="bar" style="left:83.9px;top:1786.58px;width:306.87px;background:#63a5e2;"></div>
<div class="bar" style="left:83.9px;top:1805.4px;width:301.04px;background:#63a5e2;"></div>
<div class="bar" style="left:83.9px;top:1824.21px;width:324.91px;background:#63a5e2;"></div>
<div class="bar" style="left:83.9px;top:1843.03px;width:313.43px;background:#63a5e2;"></div>
<div class="bar" style="left:83.9px;top:1861.84px;width:276.99px;background:#63a5e2;"></div>
<div class="bar" style="left:83.9px;top:1880.66px;width:266.42px;background:#63a5e2;"></div>
<div class="bar" style="left:83.9px;top:1899.47px;width:218.5px;background:#63a5e2;"></div>
<div class="bar" style="left:83.9px;top:1918.29px;width:193px;background:#63a5e2;"></div>
<div class="bar" style="left:83.9px;top:1937.1px;width:173.68px;background:#63a5e2;"></div>
<div class="tk" style="left:83.4px;top:182.5px;width:534px;height:1px;"></div>
<div class="tk" style="left:82.9px;top:177px;width:1px;height:5.5px;"></div>
<div class="xl" style="left:53.4px;">0</div>
<div class="tk" style="left:174px;top:177px;width:1px;height:5.5px;"></div>
<div class="xl" style="left:144.5px;">500</div>
<div class="tk" style="left:265.1px;top:177px;width:1px;height:5.5px;"></div>
<div class="xl" style="left:235.6px;">1000</div>
<div class="tk" style="left:356.2px;top:177px;width:1px;height:5.5px;"></div>
<div class="xl" style="left:326.7px;">1500</div>
<div class="tk" style="left:447.3px;top:177px;width:1px;height:5.5px;"></div>
<div class="xl" style="left:417.8px;">2000</div>
<div class="tk" style="left:538.4px;top:177px;width:1px;height:5.5px;"></div>
<div class="xl" style="left:508.9px;">2500</div>
<div class="tk" style="left:82.9px;top:182.5px;width:1px;height:1768.61px;background:#d2d2d2;"></div>
<div class="tk" style="left:75.9px;top:191.41px;width:7px;height:1px;"></div>
<div class="yl" style="top:182.91px;">1929</div>
<div class="vl" style="left:182.71px;top:182.11px">505</div>
<div class="tk" style="left:75.9px;top:210.22px;width:7px;height:1px;"></div>
<div class="yl" style="top:201.72px;">1930</div>
<div class="vl" style="left:209.13px;top:200.92px">650</div>
<div class="tk" style="left:75.9px;top:229.04px;width:7px;height:1px;"></div>
<div class="yl" style="top:220.54px;">1931</div>
<div class="vl" style="left:196.19px;top:219.74px">579</div>
<div class="tk" style="left:75.9px;top:247.85px;width:7px;height:1px;"></div>
<div class="yl" style="top:239.35px;">1932</div>
<div class="vl" style="left:209.13px;top:238.55px">650</div>
<div class="tk" style="left:75.9px;top:266.67px;width:7px;height:1px;"></div>
<div class="yl" style="top:258.17px;">1933</div>
<div class="vl" style="left:226.62px;top:257.37px">746</div>
<div class="tk" style="left:75.9px;top:285.48px;width:7px;height:1px;"></div>
<div class="yl" style="top:276.98px;">1934</div>
<div class="vl" style="left:222.25px;top:276.18px">722</div>
<div class="tk" style="left:75.9px;top:304.3px;width:7px;height:1px;"></div>
<div class="yl" style="top:295.8px;">1935</div>
<div class="vl" style="left:233px;top:295px">781</div>
<div class="tk" style="left:75.9px;top:323.11px;width:7px;height:1px;"></div>
<div class="yl" style="top:314.61px;">1936</div>
<div class="vl" style="left:241.02px;top:313.81px">825</div>
<div class="tk" style="left:75.9px;top:341.93px;width:7px;height:1px;"></div>
<div class="yl" style="top:333.43px;">1937</div>
<div class="vl" style="left:238.83px;top:332.63px">813</div>
<div class="tk" style="left:75.9px;top:360.74px;width:7px;height:1px;"></div>
<div class="yl" style="top:352.24px;">1938</div>
<div class="vl" style="left:247.57px;top:351.44px">861</div>
<div class="tk" style="left:75.9px;top:379.56px;width:7px;height:1px;"></div>
<div class="yl" style="top:371.06px;">1939</div>
<div class="vl" style="left:228.63px;top:370.26px">757</div>
<div class="tk" style="left:75.9px;top:398.37px;width:7px;height:1px;"></div>
<div class="yl" style="top:389.87px;">1940</div>
<div class="vl" style="left:257.23px;top:389.07px">914</div>
<div class="tk" style="left:75.9px;top:417.19px;width:7px;height:1px;"></div>
<div class="yl" style="top:408.69px;">1941</div>
<div class="vl" style="left:253.4px;top:407.89px">893</div>
<div class="tk" style="left:75.9px;top:436px;width:7px;height:1px;"></div>
<div class="yl" style="top:427.5px;">1942</div>
<div class="vl" style="left:252.31px;top:426.7px">887</div>
<div class="tk" style="left:75.9px;top:454.82px;width:7px;height:1px;"></div>
<div class="yl" style="top:446.32px;">1943</div>
<div class="vl" style="left:251.4px;top:445.52px">882</div>
<div class="tk" style="left:75.9px;top:473.63px;width:7px;height:1px;"></div>
<div class="yl" style="top:465.13px;">1944</div>
<div class="vl" style="left:267.62px;top:464.33px">971</div>
<div class="tk" style="left:75.9px;top:492.45px;width:7px;height:1px;"></div>
<div class="yl" style="top:483.95px;">1945</div>
<div class="vl" style="left:273.81px;top:483.15px">1005</div>
<div class="tk" style="left:75.9px;top:511.26px;width:7px;height:1px;"></div>
<div class="yl" style="top:502.76px;">1946</div>
<div class="vl" style="left:288.57px;top:501.96px">1086</div>
<div class="tk" style="left:75.9px;top:530.08px;width:7px;height:1px;"></div>
<div class="yl" style="top:521.58px;">1947</div>
<div class="vl" style="left:304.6px;top:520.78px">1174</div>
<div class="tk" style="left:75.9px;top:548.89px;width:7px;height:1px;"></div>
<div class="yl" style="top:540.39px;">1948</div>
<div class="vl" style="left:310.8px;top:539.59px">1208</div>
<div class="tk" style="left:75.9px;top:567.71px;width:7px;height:1px;"></div>
<div class="yl" style="top:559.21px;">1949</div>
<div class="vl" style="left:344.14px;top:558.41px">1391</div>
<div class="tk" style="left:75.9px;top:586.52px;width:7px;height:1px;"></div>
<div class="yl" style="top:578.02px;">1950</div>
<div class="vl" style="left:358.72px;top:577.22px">1471</div>
<div class="tk" style="left:75.9px;top:605.34px;width:7px;height:1px;"></div>
<div class="yl" style="top:596.84px;">1951</div>
<div class="vl" style="left:353.25px;top:596.04px">1441</div>
<div class="tk" style="left:75.9px;top:624.15px;width:7px;height:1px;"></div>
<div class="yl" style="top:615.65px;">1952</div>
<div class="vl" style="left:404.81px;top:614.85px">1724</div>
<div class="tk" style="left:75.9px;top:642.97px;width:7px;height:1px;"></div>
<div class="yl" style="top:634.47px;">1953</div>
<div class="vl" style="left:395.89px;top:633.67px">1675</div>
<div class="tk" style="left:75.9px;top:661.78px;width:7px;height:1px;"></div>
<div class="yl" style="top:653.28px;">1954</div>
<div class="vl" style="left:427.95px;top:652.48px">1851</div>
<div class="tk" style="left:75.9px;top:680.6px;width:7px;height:1px;"></div>
<div class="yl" style="top:672.1px;">1955</div>
<div class="vl" style="left:429.77px;top:671.3px">1861</div>
<div class="tk" style="left:75.9px;top:699.41px;width:7px;height:1px;"></div>
<div class="yl" style="top:690.91px;">1956</div>
<div class="vl" style="left:407px;top:690.11px">1736</div>
<div class="tk" style="left:75.9px;top:718.23px;width:7px;height:1px;"></div>
<div class="yl" style="top:709.73px;">1957</div>
<div class="vl" style="left:436.88px;top:708.93px">1900</div>
<div class="tk" style="left:75.9px;top:737.04px;width:7px;height:1px;"></div>
<div class="yl" style="top:728.54px;">1958</div>
<div class="vl" style="left:402.99px;top:727.74px">1714</div>
<div class="tk" style="left:75.9px;top:755.86px;width:7px;height:1px;"></div>
<div class="yl" style="top:747.36px;">1959</div>
<div class="vl" style="left:328.65px;top:746.56px">1306</div>
<div class="tk" style="left:75.9px;top:774.67px;width:7px;height:1px;"></div>
<div class="yl" style="top:766.17px;">1960</div>
<div class="vl" style="left:358.17px;top:765.37px">1468</div>
<div class="tk" style="left:75.9px;top:793.49px;width:7px;height:1px;"></div>
<div class="yl" style="top:784.99px;">1961</div>
<div class="vl" style="left:298.59px;top:784.19px;color:#5a464e">1141</div>
<div class="tk" style="left:75.9px;top:812.3px;width:7px;height:1px;"></div>
<div class="yl" style="top:803.8px;">1962</div>
<div class="vl" style="left:471.86px;top:803px;color:#5a464e">2092</div>
<div class="tk" style="left:75.9px;top:831.12px;width:7px;height:1px;"></div>
<div class="yl" style="top:822.62px;">1963</div>
<div class="vl" style="left:598.49px;top:821.82px;color:#5a464e">2787</div>
<div class="tk" style="left:75.9px;top:849.93px;width:7px;height:1px;"></div>
<div class="yl" style="top:841.43px;">1964</div>
<div class="vl" style="left:530.53px;top:840.63px;color:#5a464e">2414</div>
<div class="tk" style="left:75.9px;top:868.75px;width:7px;height:1px;"></div>
<div class="yl" style="top:860.25px;">1965</div>
<div class="vl" style="left:542.56px;top:859.45px;color:#5a464e">2480</div>
<div class="tk" style="left:75.9px;top:887.56px;width:7px;height:1px;"></div>
<div class="yl" style="top:879.06px;">1966</div>
<div class="vl" style="left:543.1px;top:878.26px;color:#5a464e">2483</div>
<div class="tk" style="left:75.9px;top:906.38px;width:7px;height:1px;"></div>
<div class="yl" style="top:897.88px;">1967</div>
<div class="vl" style="left:486.8px;top:897.08px;color:#5a464e">2174</div>
<div class="tk" style="left:75.9px;top:925.19px;width:7px;height:1px;"></div>
<div class="yl" style="top:916.69px;">1968</div>
<div class="vl" style="left:595.76px;top:915.89px;color:#5a464e">2772</div>
<div class="tk" style="left:75.9px;top:944.01px;width:7px;height:1px;"></div>
<div class="yl" style="top:935.51px;">1969</div>
<div class="vl" style="left:546.56px;top:934.71px;color:#5a464e">2502</div>
<div class="tk" style="left:75.9px;top:962.82px;width:7px;height:1px;"></div>
<div class="yl" style="top:954.32px;">1970</div>
<div class="vl" style="left:598.67px;top:953.52px;color:#5a464e">2788</div>
<div class="tk" style="left:75.9px;top:981.64px;width:7px;height:1px;"></div>
<div class="yl" style="top:973.14px;">1971</div>
<div class="vl" style="left:568.06px;top:972.34px;color:#5a464e">2620</div>
<div class="tk" style="left:75.9px;top:1000.45px;width:7px;height:1px;"></div>
<div class="yl" style="top:991.95px;">1972</div>
<div class="vl" style="left:565.88px;top:991.15px;color:#5a464e">2608</div>
<div class="tk" style="left:75.9px;top:1019.27px;width:7px;height:1px;"></div>
<div class="yl" style="top:1010.77px;">1973</div>
<div class="vl" style="left:546.93px;top:1009.97px;color:#5a464e">2504</div>
<div class="tk" style="left:75.9px;top:1038.08px;width:7px;height:1px;"></div>
<div class="yl" style="top:1029.58px;">1974</div>
<div class="vl" style="left:503.75px;top:1028.78px;color:#5a464e">2267</div>
<div class="tk" style="left:75.9px;top:1056.9px;width:7px;height:1px;"></div>
<div class="yl" style="top:1048.4px;">1975</div>
<div class="vl" style="left:480.24px;top:1047.6px;color:#5a464e">2138</div>
<div class="tk" style="left:75.9px;top:1075.71px;width:7px;height:1px;"></div>
<div class="yl" style="top:1067.21px;">1976</div>
<div class="vl" style="left:432.32px;top:1066.41px">1875</div>
<div class="tk" style="left:75.9px;top:1094.53px;width:7px;height:1px;"></div>
<div class="yl" style="top:1086.03px;">1977</div>
<div class="vl" style="left:419.94px;top:1085.23px">1807</div>
<div class="tk" style="left:75.9px;top:1113.34px;width:7px;height:1px;"></div>
<div class="yl" style="top:1104.84px;">1978</div>
<div class="vl" style="left:410.83px;top:1104.04px">1757</div>
<div class="tk" style="left:75.9px;top:1132.16px;width:7px;height:1px;"></div>
<div class="yl" style="top:1123.66px;">1979</div>
<div class="vl" style="left:407.36px;top:1122.86px">1738</div>
<div class="tk" style="left:75.9px;top:1150.97px;width:7px;height:1px;"></div>
<div class="yl" style="top:1142.47px;">1980</div>
<div class="vl" style="left:418.11px;top:1141.67px">1797</div>
<div class="tk" style="left:75.9px;top:1169.79px;width:7px;height:1px;"></div>
<div class="yl" style="top:1161.29px;">1981</div>
<div class="vl" style="left:471.86px;top:1160.49px;color:#5a464e">2092</div>
<div class="tk" style="left:75.9px;top:1188.6px;width:7px;height:1px;"></div>
<div class="yl" style="top:1180.1px;">1982</div>
<div class="vl" style="left:503.38px;top:1179.3px;color:#5a464e">2265</div>
<div class="tk" style="left:75.9px;top:1207.42px;width:7px;height:1px;"></div>
<div class="yl" style="top:1198.92px;">1983</div>
<div class="vl" style="left:469.68px;top:1198.12px;color:#5a464e">2080</div>
<div class="tk" style="left:75.9px;top:1226.23px;width:7px;height:1px;"></div>
<div class="yl" style="top:1217.73px;">1984</div>
<div class="vl" style="left:469.13px;top:1216.93px;color:#5a464e">2077</div>
<div class="tk" style="left:75.9px;top:1245.05px;width:7px;height:1px;"></div>
<div class="yl" style="top:1236.55px;">1985</div>
<div class="vl" style="left:496.46px;top:1235.75px;color:#5a464e">2227</div>
<div class="tk" style="left:75.9px;top:1263.86px;width:7px;height:1px;"></div>
<div class="yl" style="top:1255.36px;">1986</div>
<div class="vl" style="left:529.98px;top:1254.56px;color:#5a464e">2411</div>
<div class="tk" style="left:75.9px;top:1282.68px;width:7px;height:1px;"></div>
<div class="yl" style="top:1274.18px;">1987</div>
<div class="vl" style="left:555.31px;top:1273.38px;color:#5a464e">2550</div>
<div class="tk" style="left:75.9px;top:1301.49px;width:7px;height:1px;"></div>
<div class="yl" style="top:1292.99px;">1988</div>
<div class="vl" style="left:511.04px;top:1292.19px;color:#5a464e">2307</div>
<div class="tk" style="left:75.9px;top:1320.31px;width:7px;height:1px;"></div>
<div class="yl" style="top:1311.81px;">1989</div>
<div class="vl" style="left:533.81px;top:1311.01px;color:#5a464e">2432</div>
<div class="tk" style="left:75.9px;top:1339.12px;width:7px;height:1px;"></div>
<div class="yl" style="top:1330.62px;">1990</div>
<div class="vl" style="left:529.26px;top:1329.82px;color:#5a464e">2407</div>
<div class="tk" style="left:75.9px;top:1357.94px;width:7px;height:1px;"></div>
<div class="yl" style="top:1349.44px;">1991</div>
<div class="vl" style="left:505.93px;top:1348.64px;color:#5a464e">2279</div>
<div class="tk" style="left:75.9px;top:1376.75px;width:7px;height:1px;"></div>
<div class="yl" style="top:1368.25px;">1992</div>
<div class="vl" style="left:480.06px;top:1367.45px;color:#5a464e">2137</div>
<div class="tk" style="left:75.9px;top:1395.57px;width:7px;height:1px;"></div>
<div class="yl" style="top:1387.07px;">1993</div>
<div class="vl" style="left:481.15px;top:1386.27px;color:#5a464e">2143</div>
<div class="tk" style="left:75.9px;top:1414.38px;width:7px;height:1px;"></div>
<div class="yl" style="top:1405.88px;">1994</div>
<div class="vl" style="left:477.15px;top:1405.08px;color:#5a464e">2121</div>
<div class="tk" style="left:75.9px;top:1433.2px;width:7px;height:1px;"></div>
<div class="yl" style="top:1424.7px;">1995</div>
<div class="vl" style="left:468.4px;top:1423.9px;color:#5a464e">2073</div>
<div class="tk" style="left:75.9px;top:1452.01px;width:7px;height:1px;"></div>
<div class="yl" style="top:1443.51px;">1996</div>
<div class="vl" style="left:469.31px;top:1442.71px;color:#5a464e">2078</div>
<div class="tk" style="left:75.9px;top:1470.83px;width:7px;height:1px;"></div>
<div class="yl" style="top:1462.33px;">1997</div>
<div class="vl" style="left:462.02px;top:1461.53px;color:#5a464e">2038</div>
<div class="tk" style="left:75.9px;top:1489.64px;width:7px;height:1px;"></div>
<div class="yl" style="top:1481.14px;">1998</div>
<div class="vl" style="left:453.46px;top:1480.34px">1991</div>
<div class="tk" style="left:75.9px;top:1508.46px;width:7px;height:1px;"></div>
<div class="yl" style="top:1499.96px;">1999</div>
<div class="vl" style="left:438.52px;top:1499.16px">1909</div>
<div class="tk" style="left:75.9px;top:1527.27px;width:7px;height:1px;"></div>
<div class="yl" style="top:1518.77px;">2000</div>
<div class="vl" style="left:414.65px;top:1517.97px">1778</div>
<div class="tk" style="left:75.9px;top:1546.09px;width:7px;height:1px;"></div>
<div class="yl" style="top:1537.59px;">2001</div>
<div class="vl" style="left:400.8px;top:1536.79px">1702</div>
<div class="tk" style="left:75.9px;top:1564.9px;width:7px;height:1px;"></div>
<div class="yl" style="top:1556.4px;">2002</div>
<div class="vl" style="left:390.78px;top:1555.6px">1647</div>
<div class="tk" style="left:75.9px;top:1583.72px;width:7px;height:1px;"></div>
<div class="yl" style="top:1575.22px;">2003</div>
<div class="vl" style="left:382.04px;top:1574.42px">1599</div>
<div class="tk" style="left:75.9px;top:1602.53px;width:7px;height:1px;"></div>
<div class="yl" style="top:1594.03px;">2004</div>
<div class="vl" style="left:380.94px;top:1593.23px">1593</div>
<div class="tk" style="left:75.9px;top:1621.35px;width:7px;height:1px;"></div>
<div class="yl" style="top:1612.85px;">2005</div>
<div class="vl" style="left:385.32px;top:1612.05px">1617</div>
<div class="tk" style="left:75.9px;top:1640.16px;width:7px;height:1px;"></div>
<div class="yl" style="top:1631.66px;">2006</div>
<div class="vl" style="left:379.3px;top:1630.86px">1584</div>
<div class="tk" style="left:75.9px;top:1658.98px;width:7px;height:1px;"></div>
<div class="yl" style="top:1650.48px;">2007</div>
<div class="vl" style="left:381.13px;top:1649.68px">1594</div>
<div class="tk" style="left:75.9px;top:1677.79px;width:7px;height:1px;"></div>
<div class="yl" style="top:1669.29px;">2008</div>
<div class="vl" style="left:383.68px;top:1668.49px">1608</div>
<div class="tk" style="left:75.9px;top:1696.61px;width:7px;height:1px;"></div>
<div class="yl" style="top:1688.11px;">2009</div>
<div class="vl" style="left:384.95px;top:1687.31px">1615</div>
<div class="tk" style="left:75.9px;top:1715.42px;width:7px;height:1px;"></div>
<div class="yl" style="top:1706.92px;">2010</div>
<div class="vl" style="left:382.22px;top:1706.12px">1600</div>
<div class="tk" style="left:75.9px;top:1734.24px;width:7px;height:1px;"></div>
<div class="yl" style="top:1725.74px;">2011</div>
<div class="vl" style="left:382.95px;top:1724.94px">1604</div>
<div class="tk" style="left:75.9px;top:1753.05px;width:7px;height:1px;"></div>
<div class="yl" style="top:1744.55px;">2012</div>
<div class="vl" style="left:388.6px;top:1743.75px">1635</div>
<div class="tk" style="left:75.9px;top:1771.87px;width:7px;height:1px;"></div>
<div class="yl" style="top:1763.37px;">2013</div>
<div class="vl" style="left:389.51px;top:1762.57px">1640</div>
<div class="tk" style="left:75.9px;top:1790.68px;width:7px;height:1px;"></div>
<div class="yl" style="top:1782.18px;">2014</div>
<div class="vl" style="left:398.07px;top:1781.38px">1687</div>
<div class="tk" style="left:75.9px;top:1809.5px;width:7px;height:1px;"></div>
<div class="yl" style="top:1801px;">2015</div>
<div class="vl" style="left:392.24px;top:1800.2px">1655</div>
<div class="tk" style="left:75.9px;top:1828.31px;width:7px;height:1px;"></div>
<div class="yl" style="top:1819.81px;">2016</div>
<div class="vl" style="left:416.11px;top:1819.01px">1786</div>
<div class="tk" style="left:75.9px;top:1847.13px;width:7px;height:1px;"></div>
<div class="yl" style="top:1838.63px;">2017</div>
<div class="vl" style="left:404.63px;top:1837.83px">1723</div>
<div class="tk" style="left:75.9px;top:1865.94px;width:7px;height:1px;"></div>
<div class="yl" style="top:1857.44px;">2018</div>
<div class="vl" style="left:368.19px;top:1856.64px">1523</div>
<div class="tk" style="left:75.9px;top:1884.76px;width:7px;height:1px;"></div>
<div class="yl" style="top:1876.26px;">2019</div>
<div class="vl" style="left:357.62px;top:1875.46px">1465</div>
<div class="tk" style="left:75.9px;top:1903.57px;width:7px;height:1px;"></div>
<div class="yl" style="top:1895.07px;">2020</div>
<div class="vl" style="left:309.7px;top:1894.27px">1202</div>
<div class="tk" style="left:75.9px;top:1922.39px;width:7px;height:1px;"></div>
<div class="yl" style="top:1913.89px;">2021</div>
<div class="vl" style="left:284.2px;top:1913.09px">1062</div>
<div class="tk" style="left:75.9px;top:1941.2px;width:7px;height:1px;"></div>
<div class="yl" style="top:1932.7px;">2022</div>
<div class="vl" style="left:264.88px;top:1931.9px">956</div>
<div class="foot">数据来源：<span class="en">choice</span><span class="hy">-</span><span class="cn2">中国宏观数据库</span></div>
<div class="a" style="left:30px;top:2009px;width:626px;height:1.5px;background:#e3e3e3;"></div>
</body></html>
